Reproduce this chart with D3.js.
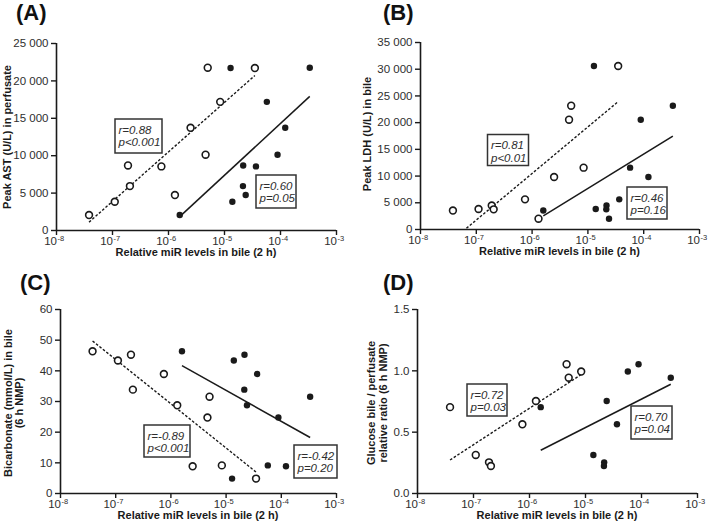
<!DOCTYPE html>
<html>
<head>
<meta charset="utf-8">
<script src="https://cdn.jsdelivr.net/npm/d3@7/dist/d3.min.js"></script>
<style>
  html, body { margin: 0; padding: 0; background: #fff; }
  svg { display: block; font-family: "Liberation Sans", Arial, sans-serif; }
</style>
</head>
<body>
<svg id="chart" width="709" height="525"></svg>
<script>
// ---------------- DATA ----------------
// Eleven livers; each has two miR levels (open = miR 1, filled = miR 2) and four outcomes.
const xOpen   = [3.89e-8, 1.12e-7, 1.93e-7, 2.09e-7, 7.62e-7, 1.33e-6, 2.53e-6, 4.69e-6, 5.12e-6, 8.55e-6, 3.56e-5];
const xFilled = [1.62e-6, 1.41e-5, 2.20e-5, 2.18e-5, 3.72e-5, 2.44e-5, 1.24e-4, 9.04e-5, 3.40e-4, 5.82e-5, 1.31e-5];

const peakAST   = [2000, 3780, 8630, 5870, 8500, 4670, 13660, 10070, 21700, 17130, 21650];
const peakLDH   = [3450, 3740, 4400, 3680, 5550, 1930, 9730, 20460, 23080, 11480, 30510];
const bicarb    = [46.2, 43.2, 45.1, 33.7, 38.8, 28.6, 8.7, 24.6, 31.4, 9.0, 4.7];
const glucose   = [0.70, 0.31, 0.25, 0.22, 0.56, 0.75, null, 1.05, 0.94, 0.99, null];

const xTickValues = [1e-8, 1e-7, 1e-6, 1e-5, 1e-4, 1e-3];
const astTicks  = [0, 5000, 10000, 15000, 20000, 25000];
const ldhTicks  = [0, 5000, 10000, 15000, 20000, 25000, 30000, 35000];
const bicTicks  = [0, 10, 20, 30, 40, 50, 60];
const gluTicks  = [0, 0.5, 1.0, 1.5];

const statsA = [["r=0.88", "p<0.001"], ["r=0.60", "p=0.05"]];
const statsB = [["r=0.81", "p<0.01"], ["r=0.46", "p=0.16"]];
const statsC = [["r=-0.89", "p<0.001"], ["r=-0.42", "p=0.20"]];
const statsD = [["r=0.72", "p=0.03"], ["r=0.70", "p=0.04"]];

const xTitle = "Relative miR levels in bile (2 h)";

// ---------------- LAYOUT ----------------
const locale = d3.formatLocale({decimal: ".", thousands: " ", grouping: [3], currency: ["", ""]});
const fmtThousands = locale.format(",d");
const fmtInt = d3.format("d");
const fmtOne = d3.format(".1f");

const panels = [
  { label: "(A)", lx: 16, ly: 20, x0: 56, x1: 336, yb: 230, yt: 43, yDomain: [0, 25000], ticks: astTicks, fmt: fmtThousands,
    y: peakAST, title: ["Peak AST (U/L) in perfusate"], tx: [11], ty: 137,
    stats: statsA, boxes: [[115, 119, 47, 34], [256, 175, 40, 33]] },
  { label: "(B)", lx: 383, ly: 20, x0: 420, x1: 699, yb: 229, yt: 42, yDomain: [0, 35000], ticks: ldhTicks, fmt: fmtThousands,
    y: peakLDH, title: ["Peak LDH (U/L) in bile"], tx: [371], ty: 134,
    stats: statsB, boxes: [[487.5, 134.5, 41, 31], [627, 187, 40, 32]] },
  { label: "(C)", lx: 20, ly: 290, x0: 60, x1: 336, yb: 493, yt: 309, yDomain: [0, 60], ticks: bicTicks, fmt: fmtInt,
    y: bicarb, title: ["Bicarbonate (mmol/L) in bile", "(6 h NMP)"], tx: [11.5, 22.5], ty: 403,
    stats: statsC, boxes: [[144, 425, 46, 32], [294, 445, 43, 33]] },
  { label: "(D)", lx: 383, ly: 290, x0: 417, x1: 697, yb: 493, yt: 309, yDomain: [0, 1.5], ticks: gluTicks, fmt: fmtOne,
    y: glucose, title: ["Glucose bile / perfusate", "relative ratio (6 h NMP)"], tx: [375, 386.5], ty: 403,
    stats: statsD, boxes: [[467, 384, 40, 32], [631, 406, 41, 33]] }
];

const svg = d3.select("#chart");
const ink = "#1a1a1a";
const textInk = "#2e2e2e";

function regression(xs, ys) {
  const pts = xs.map((x, i) => [Math.log10(x), ys[i]]).filter(p => p[1] != null);
  const mx = d3.mean(pts, p => p[0]), my = d3.mean(pts, p => p[1]);
  const sxy = d3.sum(pts, p => (p[0] - mx) * (p[1] - my));
  const sxx = d3.sum(pts, p => (p[0] - mx) ** 2);
  const b = sxy / sxx, a = my - b * mx;
  const lo = d3.min(pts, p => p[0]), hi = d3.max(pts, p => p[0]);
  return [[Math.pow(10, lo), a + b * lo], [Math.pow(10, hi), a + b * hi]];
}

panels.forEach((p, pi) => {
  const g = svg.append("g");
  const x = d3.scaleLog().domain([1e-8, 1e-3]).range([p.x0, p.x1]);
  const y = d3.scaleLinear().domain(p.yDomain).range([p.yb, p.yt]);

  // panel label
  g.append("text").attr("x", p.lx).attr("y", p.ly)
    .attr("font-size", 22).attr("font-weight", "bold").attr("fill", "#111").text(p.label);

  // clip
  const clipId = "clip" + pi;
  svg.append("clipPath").attr("id", clipId).append("rect")
    .attr("x", p.x0).attr("y", p.yt - 5).attr("width", p.x1 - p.x0).attr("height", p.yb - p.yt + 5);

  // y axis
  const yAxis = g.append("g").attr("transform", `translate(${p.x0},0)`)
    .call(d3.axisLeft(y).tickValues(p.ticks).tickFormat(p.fmt).tickSize(5).tickPadding(2.5));
  // x axis
  const xAxis = g.append("g").attr("transform", `translate(0,${p.yb})`)
    .call(d3.axisBottom(x).tickValues(xTickValues).tickFormat(() => "").tickSize(5));

  [yAxis, xAxis].forEach(ax => {
    ax.select(".domain").attr("stroke", ink).attr("stroke-width", 1.6);
    ax.selectAll(".tick line").attr("stroke", ink).attr("stroke-width", 1.4);
    ax.selectAll(".tick text").attr("fill", textInk).attr("font-size", 11.5)
      .attr("font-family", "Liberation Sans, Arial, sans-serif");
  });
  yAxis.select(".domain").attr("d", `M0.5,${p.yt}V${p.yb}`);
  xAxis.select(".domain").attr("d", `M${p.x0},0.5H${p.x1}`);

  // x tick labels: "10" ending at the tick, exponent as superscript to its right
  xAxis.selectAll(".tick").each(function(d) {
    const tk = d3.select(this);
    tk.select("text").remove();
    tk.append("text").attr("x", 0.5).attr("y", 14.5).attr("text-anchor", "end")
      .attr("font-size", 11.5).attr("fill", textInk).text("10");
    tk.append("text").attr("x", 1).attr("y", 10.5).attr("text-anchor", "start")
      .attr("font-size", 7.5).attr("fill", textInk).text(Math.round(Math.log10(d)));
  });

  // x title
  g.append("text").attr("x", (p.x0 + p.x1) / 2).attr("y", p.yb + 25.5)
    .attr("text-anchor", "middle").attr("font-size", 11).attr("font-weight", "bold").attr("fill", ink)
    .text(xTitle);

  // y title
  p.title.forEach((line, li) => {
    g.append("text").attr("transform", `translate(${p.tx[li]},${p.ty}) rotate(-90)`)
      .attr("text-anchor", "middle").attr("font-size", 11).attr("font-weight", "bold").attr("fill", ink)
      .text(line);
  });

  // regression lines
  const lineGen = d3.line().x(d => x(d[0])).y(d => y(d[1]));
  const regO = regression(xOpen, p.y);
  const regF = regression(xFilled, p.y);
  g.append("path").attr("clip-path", `url(#${clipId})`).attr("d", lineGen(regO))
    .attr("fill", "none").attr("stroke", ink).attr("stroke-width", 1.4).attr("stroke-dasharray", "2.6,1.8");
  g.append("path").attr("clip-path", `url(#${clipId})`).attr("d", lineGen(regF))
    .attr("fill", "none").attr("stroke", ink).attr("stroke-width", 1.5);

  // points
  const idx = d3.range(p.y.length).filter(i => p.y[i] != null);
  g.selectAll(".open").data(idx).join("circle")
    .attr("cx", i => x(xOpen[i])).attr("cy", i => y(p.y[i])).attr("r", 3.4)
    .attr("fill", "#fff").attr("stroke", ink).attr("stroke-width", 1.6);
  g.selectAll(".filled").data(idx).join("circle")
    .attr("cx", i => x(xFilled[i])).attr("cy", i => y(p.y[i])).attr("r", 3.2)
    .attr("fill", ink);

  // stats boxes
  p.boxes.forEach((b, bi) => {
    g.append("rect").attr("x", b[0]).attr("y", b[1]).attr("width", b[2]).attr("height", b[3])
      .attr("fill", "#fff").attr("stroke", "#333").attr("stroke-width", 1.5);
    p.stats[bi].forEach((s, si) => {
      g.append("text").attr("x", b[0] + 3.5).attr("y", b[1] + 14.5 + si * 12.8)
        .attr("font-size", 11.5).attr("font-style", "italic").attr("fill", textInk).text(s);
    });
  });
});
</script>
</body>
</html>
